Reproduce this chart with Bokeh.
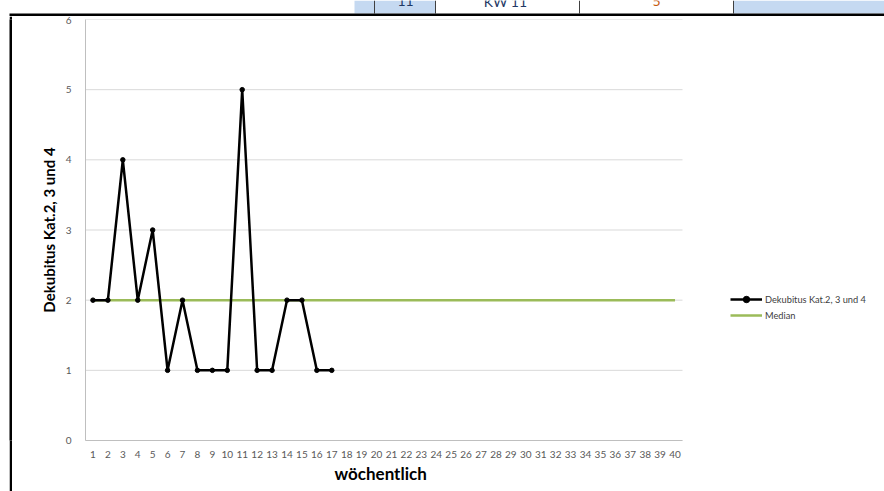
from bokeh.plotting import figure
from bokeh.models import (ColumnDataSource, FixedTicker, Legend, LegendItem, Range1d,
                          Spacer, Title)
from bokeh.layouts import column, row
from bokeh.core.properties import value
from bokeh.embed import file_html
from bokeh.resources import INLINE

# ---- data ----
weeks = list(range(1, 18))
dekubitus = [2, 2, 4, 2, 3, 1, 2, 1, 1, 1, 5, 1, 1, 2, 2, 1, 1]
median_weeks = list(range(1, 41))
median_values = [2] * 40
x_tick_labels = [str(i) for i in range(1, 41)]
y_ticks = [0, 1, 2, 3, 4, 5, 6]
series_name = "Dekubitus Kat.2, 3 und 4"
median_name = "Median"
x_title = "wöchentlich"
y_title = "Dekubitus Kat.2, 3 und 4"
table_texts = ["11", "KW 11", "5"]

FONT = "Lato"

# ---- layout geometry ----
FIG_W, FIG_H = 871, 475
LEFT, BOTTOM, TOP = 72, 51, 3
PLOT_PX = 597                      # width of the week axis area in px
frame_w = FIG_W - LEFT
x_start = 0.5
n_cat = len(median_weeks)
x_end = x_start + n_cat * frame_w / PLOT_PX   # extra room on the right for the legend

p = figure(width=FIG_W, height=FIG_H, output_backend="svg", toolbar_location=None,
           x_range=Range1d(x_start, x_end), y_range=Range1d(0, 6),
           min_border_left=LEFT, min_border_right=0, min_border_top=TOP,
           min_border_bottom=BOTTOM)
p.outline_line_color = None
p.background_fill_color = "white"
p.border_fill_color = "white"

src = ColumnDataSource(dict(x=weeks, y=dekubitus))
msrc = ColumnDataSource(dict(x=median_weeks, y=median_values))

# horizontal grid lines limited to the week axis area
p.segment(x0=[x_start] * len(y_ticks), x1=[x_start + n_cat] * len(y_ticks),
          y0=y_ticks, y1=y_ticks, line_color="#d9d9d9", line_width=1)

med_r = p.line("x", "y", source=msrc, line_color="#9bbb59", line_width=2.5)
line_r = p.line("x", "y", source=src, line_color="black", line_width=2.5)
pts_r = p.scatter("x", "y", source=src, size=4.5, color="black")

p.xaxis.ticker = FixedTicker(ticks=median_weeks)
p.xaxis.major_label_overrides = {i + 1: lab for i, lab in enumerate(x_tick_labels)}
p.xaxis.bounds = (x_start, x_start + n_cat)
p.yaxis.ticker = FixedTicker(ticks=y_ticks)
for ax in (p.xaxis, p.yaxis):
    ax.axis_line_color = "#bfbfbf"
    ax.axis_line_width = 1
    ax.major_tick_line_color = None
    ax.minor_tick_line_color = None
    ax.major_label_text_font = FONT
    ax.major_label_text_font_size = "10px"
    ax.major_label_text_color = "#595959"
    ax.axis_label_text_font = FONT
    ax.axis_label_text_font_style = "bold"
    ax.axis_label_text_color = "black"
p.yaxis.axis_label_text_font_size = "15px"
p.xaxis.major_label_standoff = 4
p.yaxis.major_label_standoff = 8
p.yaxis.axis_label = y_title
p.yaxis.axis_label_standoff = 5
p.grid.visible = False

# x axis title, centred under the week axis area (not under the legend area)
p.add_layout(Title(text=x_title, align="left", offset=249, standoff=0,
                   text_font=FONT, text_font_style="bold", text_font_size="17px",
                   text_color="black"), "below")

legend = Legend(items=[LegendItem(label=series_name, renderers=[line_r, pts_r]),
                       LegendItem(label=median_name, renderers=[med_r])],
                location=(645, 117), glyph_width=32, glyph_height=16,
                label_height=16, label_standoff=3, spacing=0, padding=0,
                margin=0, border_line_color=None, background_fill_alpha=0,
                label_text_font=FONT, label_text_font_size="9.25px",
                label_text_color="#404040")
p.add_layout(legend)

# ---- worksheet decoration around the chart ----
top = figure(width=884, height=16, output_backend="svg", toolbar_location=None,
             x_range=Range1d(0, 884), y_range=Range1d(16, 0),
             min_border=0, x_axis_type=None, y_axis_type=None)
top.outline_line_color = None
top.grid.visible = False
top.quad(left=[354, 733], right=[435, 884], top=[0, 0], bottom=[13, 13],
         fill_color="#c5d9f1", line_color=None)
top.segment(x0=[374, 435, 579, 733], x1=[374, 435, 579, 733],
            y0=[0] * 4, y1=[13] * 4, line_color="#404040", line_width=1)
top.text(x=[405, 505, 656], y=[0.5, 0.5, 0.5], text=table_texts,
         text_align="center", text_baseline="alphabetic",
         text_font=value(FONT), text_font_size="14px",
         text_color=["#1f3864", "#1f3864", "#c55a11"])
top.quad(left=[9], right=[884], top=[13], bottom=[16], fill_color="black",
         line_color=None)

bar = figure(width=3, height=FIG_H, output_backend="svg", toolbar_location=None,
             min_border=0, x_axis_type=None, y_axis_type=None)
bar.outline_line_color = None
bar.grid.visible = False
bar.background_fill_color = "black"
bar.border_fill_color = "black"

layout = column(top,
                row(Spacer(width=9, height=FIG_H), bar, Spacer(width=1, height=FIG_H),
                    p, spacing=0),
                spacing=0)

open("out.html", "w").write(file_html(layout, INLINE))
